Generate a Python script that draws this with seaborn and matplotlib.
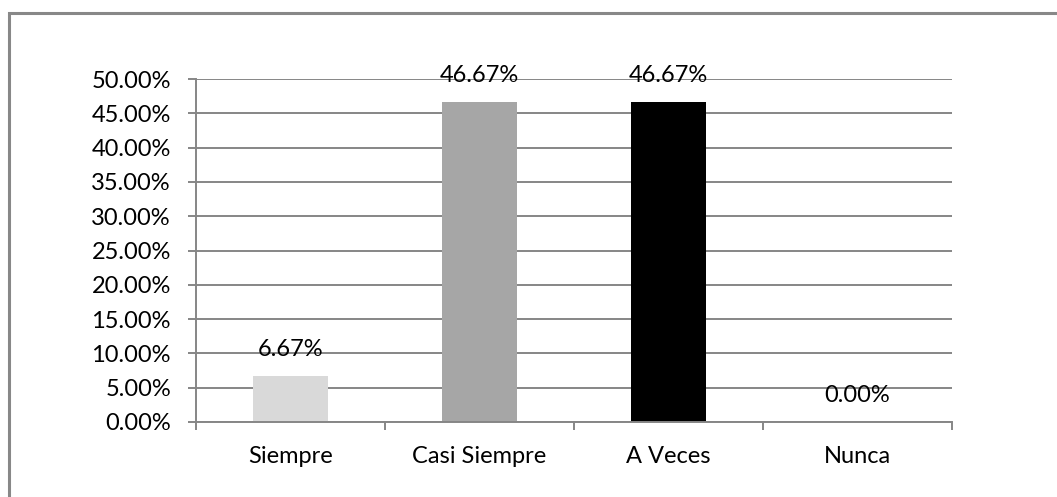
import matplotlib
matplotlib.use("Agg")
import matplotlib.pyplot as plt
import seaborn as sns
import pandas as pd
from matplotlib.patches import Rectangle
from matplotlib.ticker import FixedLocator, FuncFormatter
from matplotlib.transforms import offset_copy

categories = ["Siempre", "Casi Siempre", "A Veces", "Nunca"]
values = [6.67, 46.67, 46.67, 0.00]
bar_colors = ["#d9d9d9", "#a6a6a6", "#000000", "#ffffff"]
y_ticks = [0, 5, 10, 15, 20, 25, 30, 35, 40, 45, 50]

sns.set_theme(style="white")
plt.rcParams["font.family"] = ["Lato", "DejaVu Sans"]

df = pd.DataFrame({"cat": categories, "val": values})

fig = plt.figure(figsize=(10.57, 4.97), dpi=100)
ax = fig.add_axes([196 / 1057, 1 - 422 / 497, (952 - 196) / 1057, (422 - 79) / 497])

sns.barplot(data=df, x="cat", y="val", hue="cat", palette=bar_colors,
            width=0.40, legend=False, ax=ax, saturation=1, linewidth=0)

grid_c = "#868686"
fs = 17
ax.set_ylim(0, 50)
ax.set_xlim(-0.5, len(categories) - 0.5)
ax.yaxis.set_major_locator(FixedLocator(y_ticks))
ax.yaxis.set_major_formatter(FuncFormatter(lambda v, p: f"{v:.2f}%"))
for t in y_ticks:
    ax.axhline(t, color=grid_c, lw=1.4, zorder=0)
ax.set_axisbelow(True)

for s in ["top", "right"]:
    ax.spines[s].set_visible(False)
for s in ["left", "bottom"]:
    ax.spines[s].set_color(grid_c)
    ax.spines[s].set_linewidth(1.4)

ax.tick_params(axis="y", which="major", direction="out", length=6, width=1.4,
               color=grid_c, labelsize=fs, labelcolor="black", pad=12, left=True)
ax.set_xticks(range(len(categories)))
ax.set_xticklabels(categories)
ax.tick_params(axis="x", which="major", length=0, labelsize=fs, labelcolor="black", pad=17)
ax.set_xticks([i - 0.5 for i in range(len(categories) + 1)], minor=True)
ax.tick_params(axis="x", which="minor", direction="out", length=6, width=1.4,
               color=grid_c, bottom=True)
ax.set_xlabel("")
ax.set_ylabel("")

for i, v in enumerate(values):
    tr = offset_copy(ax.transData, fig=fig, x=0, y=19, units="points")
    ax.text(i, v, f"{v:.2f}%", transform=tr, ha="center", va="center",
            fontsize=fs, color="black", clip_on=False)

fig.patches.append(Rectangle((9 / 1057, -0.1), 1.2, 1 - 13 / 497 + 0.1,
                             transform=fig.transFigure, fill=False,
                             edgecolor="#888888", lw=2.2, zorder=0))

fig.savefig("out.png", dpi=100, facecolor="white")
